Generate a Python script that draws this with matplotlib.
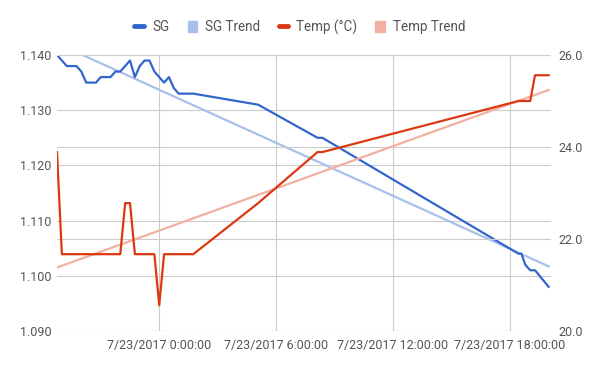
import matplotlib.pyplot as plt
from matplotlib.lines import Line2D
from matplotlib.patches import Patch

plt.rcParams['font.family'] = ['Roboto', 'DejaVu Sans']

# Time in hours relative to 7/23/2017 0:00:00
hours = [-5.25, -5.0, -4.75, -4.5, -4.25, -4.0, -3.75, -3.5, -3.25, -3.0,
         -2.75, -2.5, -2.25, -2.0, -1.75, -1.5, -1.25, -1.0, -0.75, -0.5,
         -0.25, 0.0, 0.25, 0.5, 0.75, 1.0, 1.25, 1.5, 1.75,
         5.08, 8.13, 8.38, 18.45, 18.6, 18.8, 19.05, 19.3, 20.0]

sg = [1.140, 1.139, 1.138, 1.138, 1.138, 1.137, 1.135, 1.135, 1.135, 1.136,
      1.136, 1.136, 1.137, 1.137, 1.138, 1.139, 1.136, 1.138, 1.139, 1.139,
      1.137, 1.136, 1.135, 1.136, 1.134, 1.133, 1.133, 1.133, 1.133,
      1.131, 1.125, 1.125, 1.104, 1.104, 1.102, 1.101, 1.101, 1.098]

temp = [23.89, 21.67, 21.67, 21.67, 21.67, 21.67, 21.67, 21.67, 21.67, 21.67,
        21.67, 21.67, 21.67, 21.67, 22.78, 22.78, 21.67, 21.67, 21.67, 21.67,
        21.67, 20.56, 21.67, 21.67, 21.67, 21.67, 21.67, 21.67, 21.67,
        22.78, 23.89, 23.89, 25.0, 25.0, 25.0, 25.0, 25.56, 25.56]

# trend line values at first and last time
sg_trend = [1.1421, 1.1017]
temp_trend = [21.38, 25.24]

x_ticks = [0, 6, 12, 18]
x_labels = ['7/23/2017 0:00:00', '7/23/2017 6:00:00',
            '7/23/2017 12:00:00', '7/23/2017 18:00:00']
sg_ticks = [1.090, 1.100, 1.110, 1.120, 1.130, 1.140]
temp_ticks = [20, 22, 24, 26]

c_sg = '#3366cc'
c_sg_trend = '#a9bfec'
c_temp = '#dc3912'
c_temp_trend = '#f1b0a0'
grid_c = '#cccccc'
text_c = '#555555'

fig = plt.figure(figsize=(6, 3.71), dpi=100)
ax = fig.add_axes([57 / 600, 1 - 331 / 371, 494 / 600, 276 / 371])
ax2 = ax.twinx()

trend_x = [hours[0], hours[-1]]
ax.plot(trend_x, sg_trend, color=c_sg_trend, lw=1.6, zorder=2)
ax.plot(hours, sg, color=c_sg, lw=1.6, zorder=3)
ax2.plot(trend_x, temp_trend, color=c_temp_trend, lw=1.6, zorder=2)
ax2.plot(hours, temp, color=c_temp, lw=1.6, zorder=3)

ax.set_xlim(hours[0], hours[-1] + 0.12)
ax.set_ylim(1.090, 1.140)
ax2.set_ylim(20, 26)

ax.set_xticks(x_ticks)
ax.set_xticklabels(x_labels)
ax.set_yticks(sg_ticks)
ax.set_yticklabels(['%.3f' % v for v in sg_ticks])
ax2.set_yticks(temp_ticks)
ax2.set_yticklabels(['%.1f' % v for v in temp_ticks])

ax.grid(True, color=grid_c, lw=0.8)
ax2.grid(True, axis='y', color=grid_c, lw=0.8)
ax.set_axisbelow(True)
ax2.set_axisbelow(True)

for a in (ax, ax2):
    for s in a.spines.values():
        s.set_visible(False)
    a.tick_params(length=0, labelsize=9, labelcolor=text_c)
ax.tick_params(axis='y', pad=4)
ax.tick_params(axis='x', pad=6)
ax2.tick_params(axis='y', pad=5)

handles = [
    Line2D([0], [0], color=c_sg, lw=3.5, solid_capstyle='round'),
    Patch(color=c_sg_trend),
    Line2D([0], [0], color=c_temp, lw=3.5, solid_capstyle='round'),
    Patch(color=c_temp_trend),
]
fig.legend(handles, ['SG', 'SG Trend', 'Temp (°C)', 'Temp Trend'],
           loc='center', bbox_to_anchor=(0.5, 1 - 27 / 371), ncol=4,
           frameon=False, fontsize=9.75, labelcolor=text_c,
           handlelength=0.7, handleheight=0.8, handletextpad=0.6,
           columnspacing=1.35)

plt.savefig('out.png', dpi=100)
